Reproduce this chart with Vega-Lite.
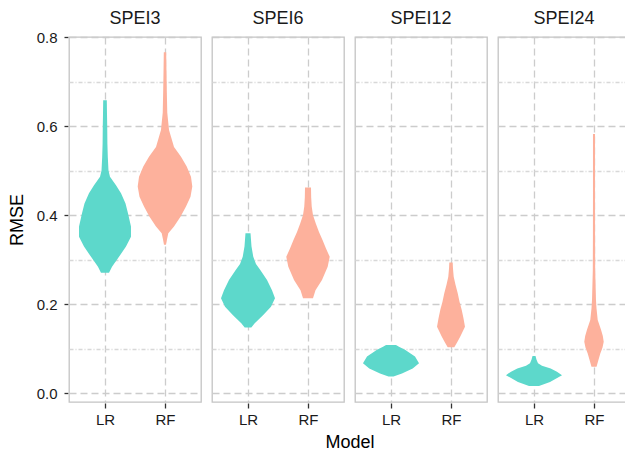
{
  "$schema": "https://vega.github.io/schema/vega-lite/v6.json",
  "padding": {"left": 8, "top": 10, "right": 0, "bottom": 5},
  "background": "white",
  "data": {"values": [
    {"panel":"SPEI3","Model":"LR","RMSE":0.270,"halfWidth":0.067},
    {"panel":"SPEI3","Model":"LR","RMSE":0.284,"halfWidth":0.117},
    {"panel":"SPEI3","Model":"LR","RMSE":0.306,"halfWidth":0.233},
    {"panel":"SPEI3","Model":"LR","RMSE":0.329,"halfWidth":0.350},
    {"panel":"SPEI3","Model":"LR","RMSE":0.351,"halfWidth":0.433},
    {"panel":"SPEI3","Model":"LR","RMSE":0.374,"halfWidth":0.433},
    {"panel":"SPEI3","Model":"LR","RMSE":0.404,"halfWidth":0.383},
    {"panel":"SPEI3","Model":"LR","RMSE":0.426,"halfWidth":0.342},
    {"panel":"SPEI3","Model":"LR","RMSE":0.449,"halfWidth":0.267},
    {"panel":"SPEI3","Model":"LR","RMSE":0.467,"halfWidth":0.183},
    {"panel":"SPEI3","Model":"LR","RMSE":0.486,"halfWidth":0.083},
    {"panel":"SPEI3","Model":"LR","RMSE":0.500,"halfWidth":0.058},
    {"panel":"SPEI3","Model":"LR","RMSE":0.530,"halfWidth":0.047},
    {"panel":"SPEI3","Model":"LR","RMSE":0.560,"halfWidth":0.040},
    {"panel":"SPEI3","Model":"LR","RMSE":0.600,"halfWidth":0.037},
    {"panel":"SPEI3","Model":"LR","RMSE":0.630,"halfWidth":0.033},
    {"panel":"SPEI3","Model":"LR","RMSE":0.658,"halfWidth":0.030},
    {"panel":"SPEI3","Model":"RF","RMSE":0.333,"halfWidth":0.017},
    {"panel":"SPEI3","Model":"RF","RMSE":0.345,"halfWidth":0.033},
    {"panel":"SPEI3","Model":"RF","RMSE":0.359,"halfWidth":0.055},
    {"panel":"SPEI3","Model":"RF","RMSE":0.374,"halfWidth":0.150},
    {"panel":"SPEI3","Model":"RF","RMSE":0.396,"halfWidth":0.258},
    {"panel":"SPEI3","Model":"RF","RMSE":0.419,"halfWidth":0.350},
    {"panel":"SPEI3","Model":"RF","RMSE":0.441,"halfWidth":0.425},
    {"panel":"SPEI3","Model":"RF","RMSE":0.464,"halfWidth":0.455},
    {"panel":"SPEI3","Model":"RF","RMSE":0.486,"halfWidth":0.433},
    {"panel":"SPEI3","Model":"RF","RMSE":0.509,"halfWidth":0.362},
    {"panel":"SPEI3","Model":"RF","RMSE":0.531,"halfWidth":0.267},
    {"panel":"SPEI3","Model":"RF","RMSE":0.553,"halfWidth":0.150},
    {"panel":"SPEI3","Model":"RF","RMSE":0.576,"halfWidth":0.100},
    {"panel":"SPEI3","Model":"RF","RMSE":0.591,"halfWidth":0.067},
    {"panel":"SPEI3","Model":"RF","RMSE":0.630,"halfWidth":0.038},
    {"panel":"SPEI3","Model":"RF","RMSE":0.680,"halfWidth":0.030},
    {"panel":"SPEI3","Model":"RF","RMSE":0.720,"halfWidth":0.025},
    {"panel":"SPEI3","Model":"RF","RMSE":0.766,"halfWidth":0.020},
    {"panel":"SPEI6","Model":"LR","RMSE":0.147,"halfWidth":0.055},
    {"panel":"SPEI6","Model":"LR","RMSE":0.157,"halfWidth":0.112},
    {"panel":"SPEI6","Model":"LR","RMSE":0.175,"halfWidth":0.250},
    {"panel":"SPEI6","Model":"LR","RMSE":0.194,"halfWidth":0.383},
    {"panel":"SPEI6","Model":"LR","RMSE":0.213,"halfWidth":0.450},
    {"panel":"SPEI6","Model":"LR","RMSE":0.231,"halfWidth":0.400},
    {"panel":"SPEI6","Model":"LR","RMSE":0.254,"halfWidth":0.317},
    {"panel":"SPEI6","Model":"LR","RMSE":0.276,"halfWidth":0.208},
    {"panel":"SPEI6","Model":"LR","RMSE":0.290,"halfWidth":0.133},
    {"panel":"SPEI6","Model":"LR","RMSE":0.306,"halfWidth":0.088},
    {"panel":"SPEI6","Model":"LR","RMSE":0.330,"halfWidth":0.058},
    {"panel":"SPEI6","Model":"LR","RMSE":0.359,"halfWidth":0.042},
    {"panel":"SPEI6","Model":"RF","RMSE":0.213,"halfWidth":0.083},
    {"panel":"SPEI6","Model":"RF","RMSE":0.231,"halfWidth":0.125},
    {"panel":"SPEI6","Model":"RF","RMSE":0.254,"halfWidth":0.233},
    {"panel":"SPEI6","Model":"RF","RMSE":0.284,"halfWidth":0.328},
    {"panel":"SPEI6","Model":"RF","RMSE":0.306,"halfWidth":0.362},
    {"panel":"SPEI6","Model":"RF","RMSE":0.325,"halfWidth":0.300},
    {"panel":"SPEI6","Model":"RF","RMSE":0.344,"halfWidth":0.242},
    {"panel":"SPEI6","Model":"RF","RMSE":0.362,"halfWidth":0.183},
    {"panel":"SPEI6","Model":"RF","RMSE":0.381,"halfWidth":0.130},
    {"panel":"SPEI6","Model":"RF","RMSE":0.400,"halfWidth":0.083},
    {"panel":"SPEI6","Model":"RF","RMSE":0.419,"halfWidth":0.062},
    {"panel":"SPEI6","Model":"RF","RMSE":0.440,"halfWidth":0.053},
    {"panel":"SPEI6","Model":"RF","RMSE":0.462,"halfWidth":0.050},
    {"panel":"SPEI12","Model":"LR","RMSE":0.037,"halfWidth":0.042},
    {"panel":"SPEI12","Model":"LR","RMSE":0.044,"halfWidth":0.183},
    {"panel":"SPEI12","Model":"LR","RMSE":0.055,"halfWidth":0.362},
    {"panel":"SPEI12","Model":"LR","RMSE":0.067,"halfWidth":0.467},
    {"panel":"SPEI12","Model":"LR","RMSE":0.082,"halfWidth":0.400},
    {"panel":"SPEI12","Model":"LR","RMSE":0.097,"halfWidth":0.233},
    {"panel":"SPEI12","Model":"LR","RMSE":0.104,"halfWidth":0.133},
    {"panel":"SPEI12","Model":"LR","RMSE":0.108,"halfWidth":0.083},
    {"panel":"SPEI12","Model":"RF","RMSE":0.103,"halfWidth":0.055},
    {"panel":"SPEI12","Model":"RF","RMSE":0.115,"halfWidth":0.108},
    {"panel":"SPEI12","Model":"RF","RMSE":0.127,"halfWidth":0.155},
    {"panel":"SPEI12","Model":"RF","RMSE":0.149,"halfWidth":0.233},
    {"panel":"SPEI12","Model":"RF","RMSE":0.168,"halfWidth":0.208},
    {"panel":"SPEI12","Model":"RF","RMSE":0.187,"halfWidth":0.178},
    {"panel":"SPEI12","Model":"RF","RMSE":0.205,"halfWidth":0.142},
    {"panel":"SPEI12","Model":"RF","RMSE":0.224,"halfWidth":0.112},
    {"panel":"SPEI12","Model":"RF","RMSE":0.243,"halfWidth":0.075},
    {"panel":"SPEI12","Model":"RF","RMSE":0.261,"halfWidth":0.045},
    {"panel":"SPEI12","Model":"RF","RMSE":0.280,"halfWidth":0.033},
    {"panel":"SPEI12","Model":"RF","RMSE":0.293,"halfWidth":0.028},
    {"panel":"SPEI24","Model":"LR","RMSE":0.016,"halfWidth":0.083},
    {"panel":"SPEI24","Model":"LR","RMSE":0.025,"halfWidth":0.267},
    {"panel":"SPEI24","Model":"LR","RMSE":0.040,"halfWidth":0.467},
    {"panel":"SPEI24","Model":"LR","RMSE":0.048,"halfWidth":0.383},
    {"panel":"SPEI24","Model":"LR","RMSE":0.055,"halfWidth":0.278},
    {"panel":"SPEI24","Model":"LR","RMSE":0.061,"halfWidth":0.133},
    {"panel":"SPEI24","Model":"LR","RMSE":0.067,"halfWidth":0.067},
    {"panel":"SPEI24","Model":"LR","RMSE":0.075,"halfWidth":0.042},
    {"panel":"SPEI24","Model":"LR","RMSE":0.083,"halfWidth":0.025},
    {"panel":"SPEI24","Model":"RF","RMSE":0.059,"halfWidth":0.042},
    {"panel":"SPEI24","Model":"RF","RMSE":0.075,"halfWidth":0.075},
    {"panel":"SPEI24","Model":"RF","RMSE":0.089,"halfWidth":0.105},
    {"panel":"SPEI24","Model":"RF","RMSE":0.102,"halfWidth":0.142},
    {"panel":"SPEI24","Model":"RF","RMSE":0.115,"halfWidth":0.162},
    {"panel":"SPEI24","Model":"RF","RMSE":0.128,"halfWidth":0.147},
    {"panel":"SPEI24","Model":"RF","RMSE":0.142,"halfWidth":0.117},
    {"panel":"SPEI24","Model":"RF","RMSE":0.164,"halfWidth":0.062},
    {"panel":"SPEI24","Model":"RF","RMSE":0.190,"halfWidth":0.042},
    {"panel":"SPEI24","Model":"RF","RMSE":0.209,"halfWidth":0.033},
    {"panel":"SPEI24","Model":"RF","RMSE":0.250,"halfWidth":0.025},
    {"panel":"SPEI24","Model":"RF","RMSE":0.276,"halfWidth":0.020},
    {"panel":"SPEI24","Model":"RF","RMSE":0.350,"halfWidth":0.018},
    {"panel":"SPEI24","Model":"RF","RMSE":0.450,"halfWidth":0.017},
    {"panel":"SPEI24","Model":"RF","RMSE":0.582,"halfWidth":0.017}
  ]},
  "transform": [
    {"calculate": "datum.Model == 'LR' ? 1 : 2", "as": "pos"},
    {"calculate": "datum.pos - datum.halfWidth", "as": "lo"},
    {"calculate": "datum.pos + datum.halfWidth", "as": "hi"}
  ],
  "facet": {
    "column": {
      "field": "panel", "type": "nominal",
      "sort": ["SPEI3", "SPEI6", "SPEI12", "SPEI24"],
      "header": {
        "title": "Model", "titleOrient": "bottom", "titleFontSize": 18, "titleFontWeight": "normal",
        "titleFont": "Liberation Sans", "titleColor": "#000000", "titlePadding": -3,
        "labelOrient": "top", "labelFontSize": 18, "labelFont": "Liberation Sans", "labelColor": "#1a1a1a", "labelPadding": 8
      }
    }
  },
  "spacing": 9,
  "spec": {
    "width": 132,
    "height": 365,
    "mark": {"type": "area", "orient": "horizontal", "opacity": 1},
    "encoding": {
      "y": {
        "field": "RMSE", "type": "quantitative",
        "scale": {"domain": [-0.0202, 0.8], "nice": false, "zero": false},
        "axis": {
          "title": "RMSE",
          "values": [0, 0.1, 0.2, 0.3, 0.4, 0.5, 0.6, 0.7, 0.8],
          "labelExpr": "round(datum.value*10) % 2 == 0 ? format(datum.value, '.1f') : ''",
          "tickOpacity": {"condition": {"test": "round(datum.value*10) % 2 == 1", "value": 0}, "value": 1},
          "gridDash": {"condition": {"test": "round(datum.value*10) % 2 == 1", "value": [4, 2, 1, 2]}, "value": [7, 4]},
          "gridColor": {"condition": {"test": "round(datum.value*10) % 2 == 1", "value": "#d8d8d8"}, "value": "#cccccc"},
          "gridWidth": 1.3,
          "domain": false,
          "tickSize": 4,
          "tickWidth": 1.3,
          "tickColor": "#333333",
          "labelPadding": 7,
          "labelFontSize": 15,
          "labelColor": "#1a1a1a",
          "labelFlush": false,
          "labelOverlap": false,
          "titleFontSize": 18,
          "titleFontWeight": "normal",
          "titleColor": "#000000",
          "titlePadding": 10
        }
      },
      "x": {
        "field": "lo", "type": "quantitative", "stack": null,
        "scale": {"domain": [0.4, 2.6], "nice": false, "zero": false},
        "axis": {
          "title": null,
          "values": [1, 2],
          "labelExpr": "datum.value == 1 ? 'LR' : 'RF'",
          "gridDash": [7, 4],
          "gridColor": "#cccccc",
          "gridWidth": 1.3,
          "domain": false,
          "tickSize": 5,
          "tickWidth": 1.3,
          "tickColor": "#333333",
          "labelPadding": 4,
          "labelFontSize": 15,
          "labelColor": "#1a1a1a",
          "labelFlush": false
        }
      },
      "x2": {"field": "hi"},
      "color": {
        "field": "Model", "type": "nominal",
        "scale": {"domain": ["LR", "RF"], "range": ["#5DD8CB", "#FDB19C"]},
        "legend": null
      }
    }
  },
  "config": {
    "font": "Liberation Sans",
    "view": {"stroke": "#c4c4c4", "strokeWidth": 1.3}
  }
}
